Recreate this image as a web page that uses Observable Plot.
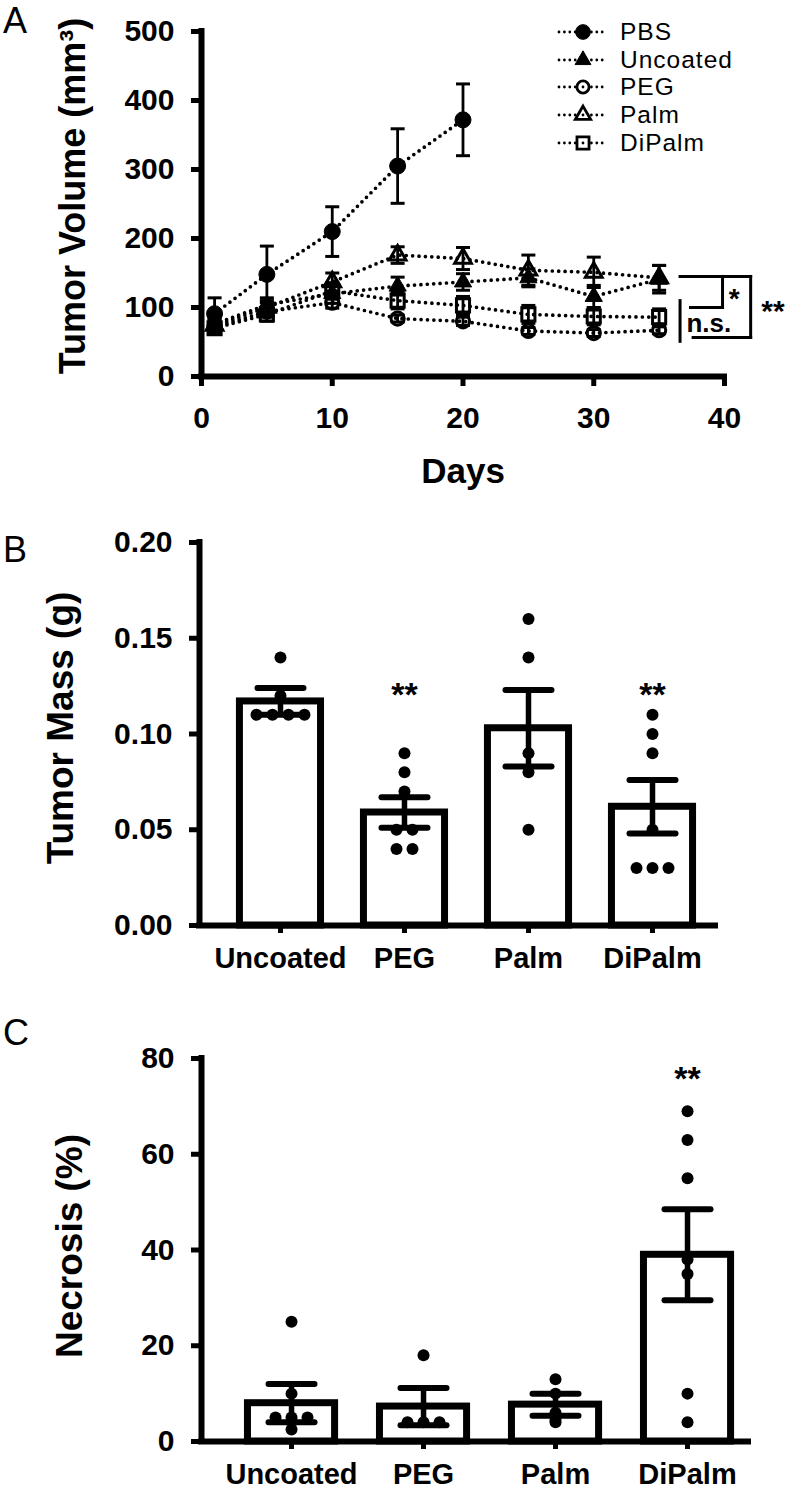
<!DOCTYPE html>
<html><head><meta charset="utf-8">
<script src="https://cdn.jsdelivr.net/npm/d3@7"></script>
<script src="https://cdn.jsdelivr.net/npm/@observablehq/plot@0.6"></script>
<style>
body{margin:0;background:#fff;}
#wrap{position:relative;width:788px;height:1497px;font-family:"Liberation Sans",Arial,sans-serif;overflow:hidden;}
.panel{position:absolute;left:0;}
.plabel{position:absolute;left:3px;font-size:36px;line-height:40px;}
.leg{position:absolute;font-size:24.5px;line-height:24px;height:24px;letter-spacing:1px;white-space:nowrap;}
</style></head>
<body><div id="wrap"></div>
<script>
// ---------- Panel A data (tumor volume, mm^3) ----------
const seriesNames = ["PBS", "Uncoated", "PEG", "Palm", "DiPalm"];
const pbsDays = [1, 5, 10, 15, 20];
const pbsMean = [91, 148, 210, 305, 372];
const pbsSem = [23, 41, 36, 54, 52];
const groupDays = [1, 5, 10, 15, 20, 25, 30, 35];
const uncoatedMean = [76, 104, 120, 131, 137, 143, 116, 141];
const uncoatedSem = [8, 10, 14, 13, 12, 13, 16, 20];
const pegMean = [72, 94, 107, 84, 80, 66, 63, 67];
const pegSem = [5, 8, 8, 5, 6, 5, 5, 5];
const palmMean = [74, 100, 137, 176, 171, 154, 151, 143];
const palmSem = [8, 10, 13, 12, 16, 22, 22, 18];
const dipalmMean = [70, 90, 124, 110, 103, 90, 87, 86];
const dipalmSem = [6, 10, 12, 12, 13, 13, 12, 12];
const xTicksA = [0, 10, 20, 30, 40];
const yTicksA = [0, 100, 200, 300, 400, 500];
// significance bracket (data units: day, volume)
const sigLines = [[36.6, 145, 42.0, 145], [39.85, 145, 39.85, 100], [37.4, 100, 39.85, 100],
                  [42.0, 145, 42.0, 56.5], [37.6, 56.5, 42.0, 56.5], [36.6, 110, 36.6, 51]];
const sigTexts = [["n.s.", 38.8, 77, 26], ["*", 40.75, 112, 28], ["**", 43.7, 94, 30]];

// ---------- Panel B data (tumor mass, g) ----------
const groups = ["Uncoated", "PEG", "Palm", "DiPalm"];
const massMean = [0.117, 0.059, 0.103, 0.062];
const massSem = [0.007, 0.008, 0.020, 0.014];
const massPoints = [[0.14, 0.12, 0.11, 0.11, 0.11, 0.11],
                    [0.09, 0.08, 0.07, 0.05, 0.05, 0.04, 0.04],
                    [0.16, 0.14, 0.09, 0.08, 0.05],
                    [0.11, 0.10, 0.09, 0.05, 0.03, 0.03, 0.03]];
const massStars = ["", "**", "", "**"];
const massStarY = 0.125;
const yTicksB = [0, 0.05, 0.10, 0.15, 0.20];

// ---------- Panel C data (necrosis, %) ----------
const necMean = [8, 7.3, 7.7, 39];
const necSem = [4, 3.9, 2.3, 9.5];
const necPoints = [[25, 10, 5, 5, 5, 2.5],
                   [18, 4, 4, 4],
                   [13, 10, 6, 4.5, 4],
                   [69, 63, 55, 38, 35, 10, 4]];
const necStars = ["", "", "", "**"];
const necStarY = 77.6;
const yTicksC = [0, 20, 40, 60, 80];

const FONT = '"Liberation Sans", Arial, sans-serif';
const wrap = document.getElementById("wrap");

function capSymbol(half) {
  return {draw(ctx) { ctx.moveTo(-half, 0); ctx.lineTo(half, 0); }};
}

// ---------- Panel A ----------
const seriesDef = [
  {name: "PBS", days: pbsDays, mean: pbsMean, sem: pbsSem, symbol: "circle", r: 8, filled: true},
  {name: "Uncoated", days: groupDays, mean: uncoatedMean, sem: uncoatedSem, symbol: "triangle", r: 6.4, filled: true},
  {name: "PEG", days: groupDays, mean: pegMean, sem: pegSem, symbol: "circle", r: 6.6, filled: false},
  {name: "Palm", days: groupDays, mean: palmMean, sem: palmSem, symbol: "triangle", r: 6.2, filled: false},
  {name: "DiPalm", days: groupDays, mean: dipalmMean, sem: dipalmSem, symbol: "square", r: 7.4, filled: false}
];
const rowsA = seriesDef.flatMap(s => s.days.map((d, i) => ({
  series: s.name, day: d, mean: s.mean[i], lo: s.mean[i] - s.sem[i], hi: s.mean[i] + s.sem[i]
})));

const capA = capSymbol(7);
const plotA = Plot.plot({
  width: 788, height: 500, marginLeft: 201, marginRight: 64, marginTop: 31, marginBottom: 124,
  style: {fontFamily: FONT, background: "transparent", overflow: "visible", color: "black"},
  x: {domain: [0, 40]}, y: {domain: [0, 500]},
  marks: [
    Plot.line(rowsA, {x: "day", y: "mean", z: "series", stroke: "black", strokeWidth: 3.7,
      strokeDasharray: "0 6.4", strokeLinecap: "round"}),
    Plot.ruleX(rowsA, {x: "day", y1: "lo", y2: "hi", stroke: "black", strokeWidth: 2.8}),
    Plot.dot(rowsA, {x: "day", y: "lo", symbol: capA, r: 1, fill: "none", stroke: "black", strokeWidth: 3}),
    Plot.dot(rowsA, {x: "day", y: "hi", symbol: capA, r: 1, fill: "none", stroke: "black", strokeWidth: 3}),
    ...seriesDef.map(s => Plot.dot(rowsA.filter(d => d.series === s.name), {
      x: "day", y: "mean", symbol: s.symbol, r: s.r,
      fill: s.filled ? "black" : "none", stroke: "black", strokeWidth: s.filled ? 1 : 3
    })),
    Plot.link(sigLines, {x1: d => d[0], y1: d => d[1], x2: d => d[2], y2: d => d[3],
      stroke: "black", strokeWidth: 3, strokeLinecap: "square"}),
    ...sigTexts.map(t => Plot.text([t], {x: d => d[1], y: d => d[2], text: d => d[0],
      fontSize: t[3], fontWeight: "bold", fill: "black"})),
    Plot.ruleX([0], {stroke: "black", strokeWidth: 6, strokeLinecap: "square"}),
    Plot.ruleY([0], {stroke: "black", strokeWidth: 6, strokeLinecap: "square"}),
    Plot.axisY({ticks: yTicksA, tickSize: 10, tickPadding: 17, strokeWidth: 5, fontSize: 30,
      fontWeight: "bold", label: null, fill: "black"}),
    Plot.axisX({ticks: xTicksA, tickSize: 10, tickPadding: 20, strokeWidth: 5, fontSize: 30,
      fontWeight: "bold", label: null, fill: "black"}),
    Plot.text(["Tumor Volume (mm³)"], {frameAnchor: "left", textAnchor: "middle", rotate: -90, dx: -128, dy: -8,
      fontSize: 36, fontWeight: "bold", fill: "black"}),
    Plot.text(["Days"], {frameAnchor: "bottom", dy: 106, fontSize: 35, fontWeight: "bold", fill: "black"})
  ]
});

// ---------- bar panels ----------
function dotRows(pointsArr, pxPerUnitX) {
  const out = [];
  pointsArr.forEach((vals, i) => {
    const counts = d3.rollup(vals, v => v.length, v => v);
    const seen = new Map();
    vals.forEach(v => {
      const k = counts.get(v), j = seen.get(v) || 0;
      seen.set(v, j + 1);
      out.push({x: i + (j - (k - 1) / 2) * 16 / pxPerUnitX, v});
    });
  });
  return out;
}

function barPanel(o) {
  const pxPerUnitX = (788 - o.marginLeft - o.marginRight) / (o.xDomain[1] - o.xDomain[0]);
  const bars = o.groups.map((g, i) => ({i, g, mean: o.mean[i], lo: o.mean[i] - o.sem[i], hi: o.mean[i] + o.sem[i], star: o.stars[i]}));
  const pts = dotRows(o.points, pxPerUnitX);
  const cap = capSymbol(23);
  return Plot.plot({
    width: 788, height: o.height, marginLeft: o.marginLeft, marginRight: o.marginRight,
    marginTop: o.marginTop, marginBottom: o.marginBottom,
    style: {fontFamily: FONT, background: "transparent", overflow: "visible", color: "black"},
    x: {domain: o.xDomain}, y: {domain: o.yDomain},
    marks: [
      Plot.rect(bars, {x1: d => d.i - o.halfBar, x2: d => d.i + o.halfBar, y1: () => 0, y2: "mean",
        fill: "white", stroke: "black", strokeWidth: 7, strokeLinejoin: "miter"}),
      Plot.dot(pts, {x: "x", y: "v", r: 6, fill: "black"}),
      Plot.ruleX(bars, {x: "i", y1: "lo", y2: "hi", stroke: "black", strokeWidth: 5.5}),
      Plot.dot(bars, {x: "i", y: "lo", symbol: cap, r: 1, fill: "none", stroke: "black", strokeWidth: 6, strokeLinecap: "round"}),
      Plot.dot(bars, {x: "i", y: "hi", symbol: cap, r: 1, fill: "none", stroke: "black", strokeWidth: 6, strokeLinecap: "round"}),
      Plot.text(bars.filter(d => d.star), {x: "i", y: () => o.starY, text: "star", fontSize: 34,
        fontWeight: "bold", dy: 9, fill: "black"}),
      Plot.ruleX([o.xDomain[0]], {stroke: "black", strokeWidth: 6, strokeLinecap: "square"}),
      Plot.ruleY([0], {stroke: "black", strokeWidth: 6, strokeLinecap: "square"}),
      Plot.axisY({ticks: o.yTicks, tickFormat: o.yFormat, tickSize: 10, tickPadding: 17, strokeWidth: 5,
        fontSize: 30, fontWeight: "bold", label: null, fill: "black"}),
      Plot.axisX({ticks: [0, 1, 2, 3], tickFormat: i => o.groups[i], tickSize: 8, tickPadding: o.xPad,
        strokeWidth: 5, fontSize: 29, fontWeight: "bold", label: null, fill: "black"}),
      Plot.text([o.title], {frameAnchor: "left", textAnchor: "middle", rotate: -90, dx: o.titleDx, dy: o.titleDy,
        fontSize: 37, fontWeight: "bold", fill: "black"})
    ]
  });
}

const plotB = barPanel({
  height: 500, marginLeft: 199, marginRight: 73, marginTop: 42, marginBottom: 75,
  xDomain: [-0.653, 3.508], yDomain: [0, 0.2], halfBar: 0.327,
  groups, mean: massMean, sem: massSem, points: massPoints, stars: massStars, starY: massStarY,
  yTicks: yTicksB, yFormat: d3.format(".2f"), xPad: 14,
  title: "Tumor Mass (g)", titleDx: -138, titleDy: -6
});
const plotC = barPanel({
  height: 497, marginLeft: 201, marginRight: 40, marginTop: 58, marginBottom: 56,
  xDomain: [-0.682, 3.462], yDomain: [0, 80], halfBar: 0.33,
  groups, mean: necMean, sem: necSem, points: necPoints, stars: necStars, starY: necStarY,
  yTicks: yTicksC, yFormat: d3.format("d"), xPad: 14,
  title: "Necrosis (%)", titleDx: -131, titleDy: -4
});

[[plotA, 0], [plotB, 500], [plotC, 1000]].forEach(([p, top]) => {
  const d = document.createElement("div");
  d.className = "panel"; d.style.top = top + "px";
  d.appendChild(p); wrap.appendChild(d);
});

// panel letters
[["A", 1], ["B", 530], ["C", 1013]].forEach(([t, top]) => {
  const s = document.createElement("div");
  s.className = "plabel"; s.style.top = top + "px"; s.textContent = t;
  wrap.appendChild(s);
});

// legend for panel A
const legendTop = [32, 60, 87, 115, 143];
seriesDef.forEach((s, i) => {
  const cy = legendTop[i];
  const svg = d3.create("svg").attr("width", 52).attr("height", 24)
    .style("position", "absolute").style("left", "557px").style("top", (cy - 12) + "px");
  svg.append("line").attr("x1", 2).attr("x2", 48).attr("y1", 12).attr("y2", 12)
    .attr("stroke", "black").attr("stroke-width", 2.8).attr("stroke-dasharray", "0 5.4")
    .attr("stroke-linecap", "round");
  const sym = {circle: d3.symbolCircle, triangle: d3.symbolTriangle, square: d3.symbolSquare}[s.symbol];
  const rr = s.r * 0.92;
  svg.append("path").attr("transform", "translate(26,12)")
    .attr("d", d3.symbol(sym, rr * rr * Math.PI)())
    .attr("fill", s.filled ? "black" : "white").attr("stroke", "black").attr("stroke-width", s.filled ? 1 : 2.8);
  if (!s.filled) svg.append("circle").attr("cx", 26).attr("cy", 12).attr("r", 1.4).attr("fill", "black");
  wrap.appendChild(svg.node());
  const t = document.createElement("div");
  t.className = "leg"; t.style.left = "620px"; t.style.top = (cy - 12) + "px"; t.textContent = s.name;
  wrap.appendChild(t);
});
</script></body></html>
